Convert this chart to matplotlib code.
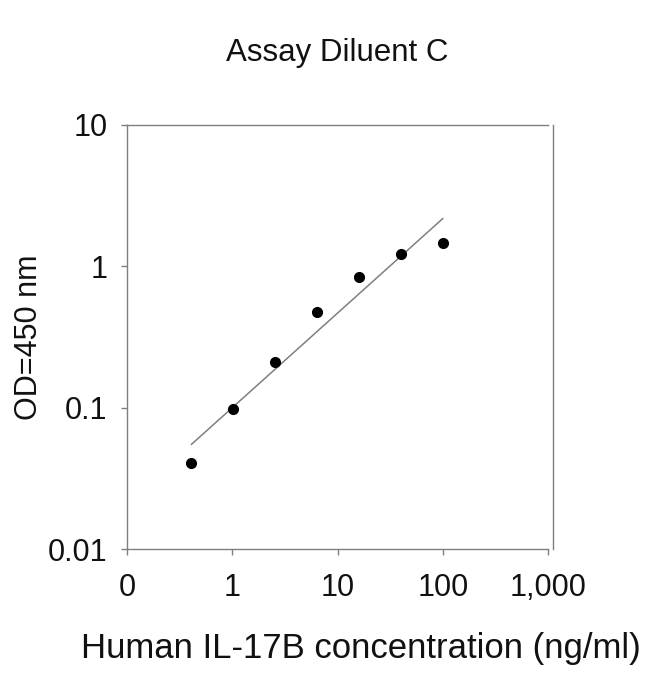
import matplotlib
matplotlib.use("Agg")
import matplotlib.pyplot as plt
import matplotlib.ticker as mticker
import numpy as np

plt.rcParams['font.family'] = ['Liberation Sans', 'DejaVu Sans']

# standard curve readings
conc = [0.41, 1.024, 2.56, 6.4, 16, 40, 100]
od = [0.041, 0.098, 0.21, 0.477, 0.843, 1.22, 1.46]

x_ticks = [0.1, 1, 10, 100, 1000]
x_labels = ["0", "1", "10", "100", "1,000"]
y_ticks = [0.01, 0.1, 1, 10]
y_labels = ["0.01", "0.1", "1", "10"]

# power fit in log-log space
slope, icpt = np.polyfit(np.log10(conc), np.log10(od), 1)
fit_x = np.array([conc[0], conc[-1]])
fit_y = 10 ** (icpt + slope * np.log10(fit_x))

fig = plt.figure(figsize=(6.5, 6.74), dpi=100)
ax = fig.add_axes([127 / 650, 1 - 549.3 / 674, 421 / 650, 424.3 / 674])

ax.plot(fit_x, fit_y, color='#7f7f7f', lw=1.1)
ax.plot(conc, od, 'o', color='black', ms=7, mec='black')

ax.set_xscale('log')
ax.set_yscale('log')
ax.set_xlim(0.1, 1000)
ax.set_ylim(0.01, 10)

ax.xaxis.set_major_locator(mticker.FixedLocator(x_ticks))
ax.yaxis.set_major_locator(mticker.FixedLocator(y_ticks))
ax.xaxis.set_minor_locator(mticker.NullLocator())
ax.yaxis.set_minor_locator(mticker.NullLocator())
ax.set_xticklabels(x_labels)
ax.set_yticklabels(y_labels)

for side in ['left', 'bottom', 'top', 'right']:
    ax.spines[side].set_color('#7f7f7f')
    ax.spines[side].set_linewidth(1.0)
ax.spines['right'].set_position(('axes', 1.012))

ax.tick_params(axis='both', direction='out', length=4, width=1,
               color='#7f7f7f', labelsize=22, labelcolor='#111111')
ax.tick_params(axis='x', pad=13)
ax.tick_params(axis='y', pad=10)

ax.set_title("Assay Diluent C", fontsize=22.5, color='#111111', pad=46)
ax.set_xlabel("Human IL-17B concentration (ng/ml)", fontsize=25, color='#111111')
ax.xaxis.set_label_coords(0.556, -0.195)
ax.set_ylabel("OD=450 nm", fontsize=22, color='#111111')
ax.yaxis.set_label_coords(-0.198, 0.5)

fig.savefig("out.png", dpi=100)
